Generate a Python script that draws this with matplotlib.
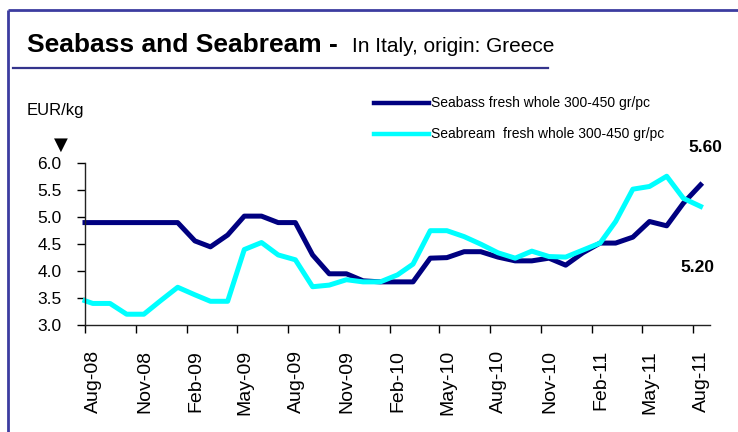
import pandas as pd
import matplotlib
matplotlib.use("Agg")
import matplotlib.pyplot as plt
import matplotlib.dates as mdates
from matplotlib.lines import Line2D

plt.rcParams['font.family'] = ['Liberation Sans', 'DejaVu Sans']

# ── Datos (EUR/kg) ────────────────────────────────────────────────────────────
# primer punto el 1 de agosto 2008, luego a mitad de cada mes
dates = pd.DatetimeIndex(["2008-08-01"]).append(
    pd.date_range("2008-08-01", "2011-08-01", freq="MS") + pd.Timedelta(days=14))

seabass = [4.90, 4.90, 4.90, 4.90, 4.90, 4.90, 4.90, 4.56, 4.45, 4.67,
           5.02, 5.02, 4.90, 4.90, 4.30, 3.95, 3.95, 3.82, 3.80, 3.80,
           3.80, 4.24, 4.25, 4.36, 4.36, 4.26, 4.19, 4.19, 4.24, 4.11,
           4.34, 4.52, 4.52, 4.63, 4.92, 4.84, 5.26, 5.60]
seabream = [3.45, 3.40, 3.40, 3.20, 3.20, 3.45, 3.70, 3.56, 3.44, 3.44,
            4.40, 4.53, 4.30, 4.21, 3.71, 3.74, 3.84, 3.80, 3.80, 3.93,
            4.13, 4.75, 4.75, 4.64, 4.50, 4.34, 4.24, 4.37, 4.27, 4.26,
            4.39, 4.52, 4.92, 5.52, 5.57, 5.76, 5.35, 5.20]

tick_dates = pd.date_range("2008-08-01", "2011-08-01", freq="3MS")
y_ticks = [3.0, 3.5, 4.0, 4.5, 5.0, 5.5, 6.0]

label_bass = "Seabass fresh whole 300-450 gr/pc"
label_bream = "Seabream  fresh whole 300-450 gr/pc"
last_bass = "5.60"
last_bream = "5.20"

NAVY = "#000080"
CYAN = "#00ffff"
FRAME = "#3c3ca0"

W, H = 738, 432


def fx(px):
    return px / W


def fy(py):
    return 1 - py / H


fig = plt.figure(figsize=(W / 100, H / 100), dpi=100)

# ── Marco y título
fig.add_artist(Line2D([fx(8), 1], [fy(10), fy(10)], color=FRAME, lw=2,
                      solid_capstyle="butt"))
fig.add_artist(Line2D([fx(8), fx(8)], [fy(10), 0], color=FRAME, lw=2,
                      solid_capstyle="butt"))
fig.add_artist(Line2D([fx(13), fx(548)], [fy(68), fy(68)], color="#34348c", lw=1.6))

fig.text(fx(27), fy(52), "Seabass and Seabream -", fontsize=19,
         fontweight="bold", va="baseline", ha="left")
fig.text(fx(352), fy(52), "In Italy, origin: Greece", fontsize=15,
         va="baseline", ha="left")

fig.text(fx(27), fy(111), "EUR/kg", fontsize=12, va="center", ha="left")
fig.text(fx(61), fy(145), "▼", fontsize=13, va="center", ha="center",
         family=["DejaVu Sans"])

# ── Leyenda manual
for y, col, lab in [(103, NAVY, label_bass), (134, CYAN, label_bream)]:
    fig.add_artist(Line2D([fx(374), fx(429)], [fy(y), fy(y)], color=col, lw=3.2))
    fig.text(fx(431), fy(y), lab, fontsize=10, va="center", ha="left")

# ── Gráfico
ax = fig.add_axes([fx(85), fy(325), fx(710) - fx(85), fy(163.3) - fy(325)])
ax.plot(dates, seabass, color=NAVY, lw=3.6, clip_on=False)
ax.plot(dates, seabream, color=CYAN, lw=3.6, clip_on=False)

ax.set_xlim(pd.Timestamp("2008-08-01"), pd.Timestamp("2011-09-01"))
ax.set_ylim(3, 6)
ax.set_yticks(y_ticks)
ax.set_yticklabels([f"{v:.1f}" for v in y_ticks])
ax.set_xticks(tick_dates)
ax.xaxis.set_major_formatter(mdates.DateFormatter("%b-%y"))

for s in ["top", "right"]:
    ax.spines[s].set_visible(False)
for s in ["left", "bottom"]:
    ax.spines[s].set_linewidth(1.0)
    ax.spines[s].set_color("#222222")

ax.tick_params(axis="y", direction="out", length=6, width=1, labelsize=12.5, pad=11)
ax.tick_params(axis="x", direction="out", length=6, width=1, labelsize=14, pad=12)
for lbl in ax.get_xticklabels():
    lbl.set_rotation(90)
    lbl.set_ha("left")
    lbl.set_va("top")

fig.text(fx(705), fy(147), last_bass, fontsize=12.5, fontweight="bold",
         va="center", ha="center")
fig.text(fx(697), fy(268), last_bream, fontsize=12.5, fontweight="bold",
         va="center", ha="center")

fig.savefig("out.png", dpi=100)
